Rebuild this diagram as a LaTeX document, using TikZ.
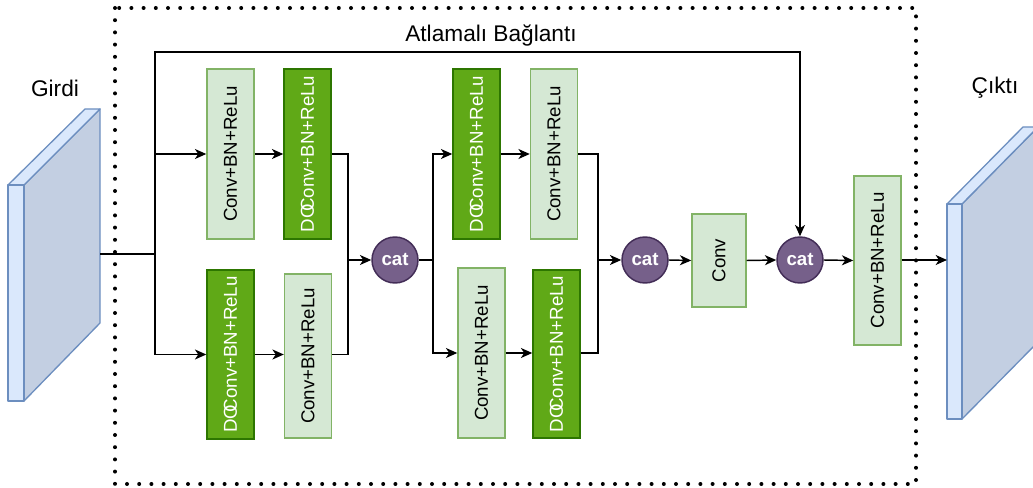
\documentclass[tikz,border=0pt]{standalone}
\usepackage{fontspec}
\setmainfont{Liberation Sans}
\usetikzlibrary{arrows.meta}

\definecolor{lgfill}{HTML}{D5E8D4}
\definecolor{lgline}{HTML}{82B366}
\definecolor{dgfill}{HTML}{60A917}
\definecolor{dgline}{HTML}{2D7600}
\definecolor{catfill}{HTML}{76608A}
\definecolor{catline}{HTML}{432D57}
\definecolor{cubefront}{HTML}{DAE8FC}
\definecolor{cubeside}{HTML}{C3CFE2}
\definecolor{cubeline}{HTML}{6C8EBF}

\newcommand{\vtext}[1]{\rotatebox{90}{\fontsize{14}{16}\selectfont #1}}
\newcommand{\doconv}{DO\kern-0.4em Conv+BN+ReLu}

\begin{document}
\begin{tikzpicture}[x=0.75pt, y=-0.75pt,
  lbox/.style={draw=lgline, fill=lgfill, line width=1.1pt, inner sep=0pt,
    minimum width=47*0.75pt, text=black},
  dbox/.style={draw=dgline, fill=dgfill, line width=1.1pt, inner sep=0pt,
    minimum width=47*0.75pt, text=white},
  catnode/.style={circle, draw=catline, fill=catfill, line width=1.1pt,
    minimum size=46*0.75pt, inner sep=0pt, text=white,
    font=\fontsize{14}{16}\selectfont\bfseries},
  wire/.style={line width=1.1pt, draw=black},
  arr/.style={wire, -{Stealth[length=8.5pt, width=7.5pt, inset=2.5pt]}},
  cube/.style={draw=cubeline, line width=1pt, line join=round},
  label/.style={font=\fontsize{17}{20}\selectfont, text=black}
]
\useasboundingbox (0,0) rectangle (1033,488);
\clip (0,0) rectangle (1033,488);

% dotted block frame
\draw[line width=3pt, line cap=round, dash pattern=on 0pt off 9.15pt]
  (115,8) rectangle (916,484);

% input tensor
\draw[cube, fill=cubeside] (24,185) -- (100,109) -- (100,323) -- (24,401) -- cycle;
\draw[cube, fill=cubefront] (8,185) -- (24,185) -- (100,109) -- (85,109) -- cycle;
\draw[cube, fill=cubefront] (8,185) rectangle (24,401);
\coordinate (inR) at (100,254);

% output tensor
\draw[cube, fill=cubeside] (962,204) -- (1038,127) -- (1038,342) -- (962,419) -- cycle;
\draw[cube, fill=cubefront] (947,204) -- (962,204) -- (1038,127) -- (1023,127) -- cycle;
\draw[cube, fill=cubefront] (947,204) rectangle (962,419);
\coordinate (outL) at (947,260);

% labels
\node[label] (girdi) at (55,88) {Girdi};
\node[label] (cikti) at (995,88) {Çıktı};
\node[label] (skiplbl) at (491,35) {Atlamalı Bağlantı};

% first stage
\node[lbox, minimum height=170*0.75pt] (c1t) at (230.5,154) {\vtext{Conv+BN+ReLu}};
\node[dbox, minimum height=170*0.75pt] (d1t) at (307.5,154) {\vtext{\doconv}};
\node[dbox, minimum height=169*0.75pt] (d1b) at (230.5,354.5) {\vtext{\doconv}};
\node[lbox, minimum height=164*0.75pt] (c1b) at (308,356) {\vtext{Conv+BN+ReLu}};
\node[catnode] (cat1) at (395,260) {cat};

% second stage
\node[dbox, minimum height=170*0.75pt] (d2t) at (476.5,154) {\vtext{\doconv}};
\node[lbox, minimum height=170*0.75pt] (c2t) at (554,154) {\vtext{Conv+BN+ReLu}};
\node[lbox, minimum height=170*0.75pt] (c2b) at (481.5,353) {\vtext{Conv+BN+ReLu}};
\node[dbox, minimum height=168*0.75pt] (d2b) at (556.5,354) {\vtext{\doconv}};
\node[catnode] (cat2) at (645,260) {cat};

% tail
\node[lbox, minimum width=54*0.75pt, minimum height=93*0.75pt] (conv) at (719,260.5) {\vtext{Conv}};
\node[catnode] (cat3) at (800,260) {cat};
\node[lbox, minimum height=169*0.75pt] (fin) at (877.5,260.5) {\vtext{Conv+BN+ReLu}};

% junction points
\coordinate (jin) at (155,254);
\coordinate (sk1) at (800,52);
\coordinate (m1) at (348,260);
\coordinate (s2) at (433,260);
\coordinate (m2) at (598,260);

% input split and skip connection
\draw[wire] (inR) -- (jin);
\draw[arr] (jin) |- (c1t.west);
\draw[arr] (jin) |- (d1b.west);
\draw[arr] (jin) |- (sk1) -- (cat3.north);

% first stage wiring
\draw[arr] (c1t.east) -- (c1t.east -| d1t.west);
\draw[arr] (d1b.east) -- (d1b.east -| c1b.west);
\draw[wire] (d1t.east) -| (m1);
\draw[wire] (d1b.east -| c1b.east) -| (m1);
\draw[arr] (m1) -- (cat1.west);

% second stage wiring
\draw[wire] (cat1.east) -- (s2);
\draw[arr] (s2) |- (d2t.west);
\draw[arr] (s2) |- (c2b.west);
\draw[arr] (d2t.east) -- (d2t.east -| c2t.west);
\draw[arr] (c2b.east) -- (c2b.east -| d2b.west);
\draw[wire] (c2t.east) -| (m2);
\draw[wire] (c2b.east -| d2b.east) -| (m2);
\draw[arr] (m2) -- (cat2.west);

% tail wiring
\draw[arr] (cat2.east) -- (conv.west);
\draw[arr] (conv.east) -- (cat3.west);
\draw[arr] (cat3.east) -- (fin.west);
\draw[arr] (fin.east |- outL) -- (outL);
\end{tikzpicture}
\end{document}
